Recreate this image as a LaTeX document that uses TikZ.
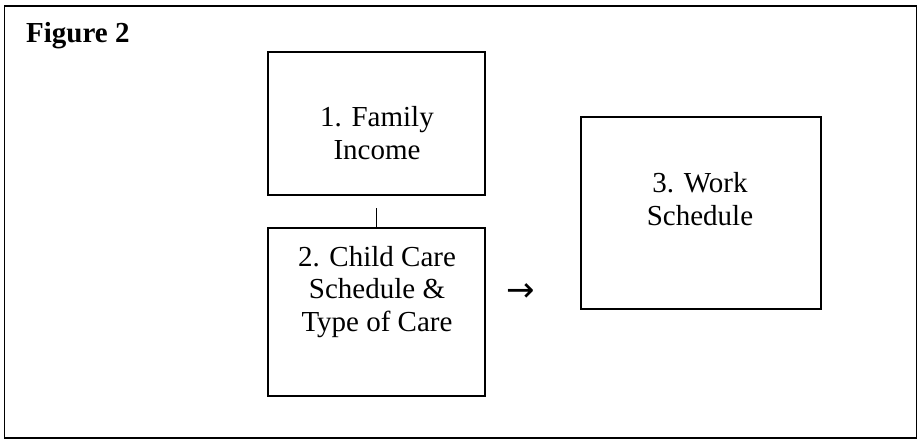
\documentclass[tikz,border=0pt]{standalone}
\usepackage{fontspec}
\setmainfont{Liberation Serif}
\newfontfamily\symfont{DejaVu Sans}
\usepackage{tikz}
\usetikzlibrary{calc}

\tikzset{
  frame/.style={draw, line width=1.8pt},
  box/.style={draw, line width=1.7pt, inner sep=0pt},
  boxtext/.style={align=center, inner sep=0pt, font=\fontsize{29}{32.5}\selectfont}
}

\begin{document}
\begin{tikzpicture}[x=1pt,y=-1pt]
  \useasboundingbox (0,0) rectangle (922,444);

  % outer frame
  \draw[frame] (4.5,6) rectangle (916.5,437.8);
  \node[anchor=base west, inner sep=0pt, font=\fontsize{29}{32}\selectfont\bfseries] (title) at (26,43) {Figure 2};

  % the three boxes
  \node[box, minimum width=217pt, minimum height=143pt] (box1) at (376.5,123.5) {};
  \node[box, minimum width=217pt, minimum height=168pt] (box2) at (376.5,312) {};
  \node[box, minimum width=240pt, minimum height=192pt] (box3) at (701,213) {};

  \node[boxtext] (inc) at (377,133) {1. Family\\Income};
  \node[boxtext] (care) at (377,292) {2. Child Care\\Schedule \&\\Type of Care};
  \node[boxtext] (work) at (700,199) {3. Work\\Schedule};

  % short tick above box 2
  \coordinate (tick) at (376.5,207.5);
  \draw[line width=1.4pt] (box2.north) -- (tick);

  % arrow sign between box 2 and box 3
  \node[inner sep=0pt, font=\fontsize{34}{36}\symfont] (arr) at (520.5,292.5) {→};
\end{tikzpicture}
\end{document}
